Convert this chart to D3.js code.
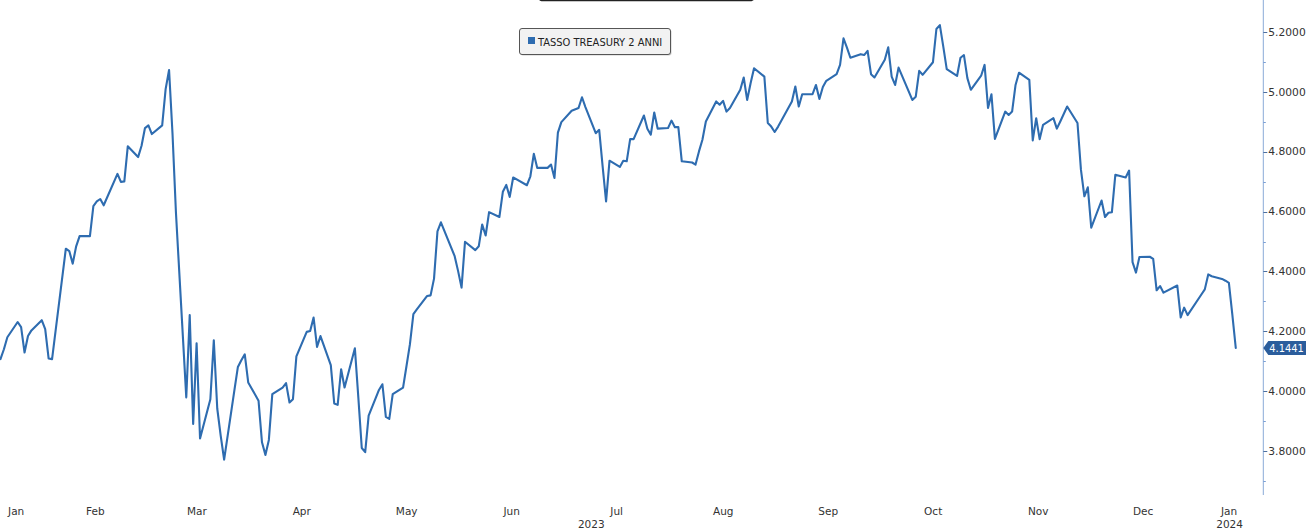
<!DOCTYPE html>
<html><head><meta charset="utf-8">
<script src="https://cdn.jsdelivr.net/npm/d3@7"></script>
<style>html,body{margin:0;padding:0;background:#fff;overflow:hidden}</style>
</head><body><svg id="c" width="1307" height="531"></svg>
<script>
// ---------- data ----------
const seriesName = "TASSO TREASURY 2 ANNI";
const firstDay = "2023-01-18";
const lastDay = "2024-01-12";
const domainStart = "2023-01-14";
const domainEnd = "2024-01-20";
const holidays = ["2023-02-20","2023-05-29","2023-06-19","2023-07-04","2023-09-04",
                  "2023-10-09","2023-11-23","2023-12-25","2024-01-01"];
// daily values (one per trading day), by month
const jan23 = [4.107,4.14,4.18,4.231,4.214,4.129,4.184,4.203,4.237,4.207];
const feb23 = [4.109,4.107,4.20,4.476,4.468,4.426,4.484,4.518,4.518,4.618,4.634,4.642,4.621,4.726,4.699,4.701,4.818,4.782,4.820];
const mar23 = [4.879,4.888,4.859,4.888,5.009,5.073,4.86,4.596,3.979,4.254,3.890,4.160,3.842,3.973,4.170,3.942,3.851,3.771,4.004,4.081,4.103,4.123,4.029];
const apr23 = [3.968,3.829,3.787,3.837,3.99,4.012,4.027,3.962,3.973,4.116,4.198,4.201,4.246,4.148,4.184,4.087,3.959,3.954,4.073,4.012];
const may23 = [4.143,3.979,3.810,3.796,3.918,4.004,4.023,3.914,3.907,3.990,4.012,4.084,4.157,4.257,4.273,4.318,4.320,4.376,4.534,4.564,4.451,4.401];
const jun23 = [4.346,4.499,4.471,4.484,4.557,4.520,4.598,4.582,4.666,4.689,4.649,4.714,4.688,4.718,4.793,4.746,4.746,4.757,4.712,4.864,4.899];
const jul23 = [4.937,4.946,4.982,4.949,4.862,4.873,4.751,4.634,4.770,4.749,4.770,4.768,4.842,4.842,4.921,4.877,4.857,4.931,4.877,4.879];
const aug23 = [4.904,4.882,4.882,4.768,4.764,4.757,4.801,4.840,4.901,4.968,4.957,4.970,4.934,4.946,5.007,5.048,4.973,5.029,5.079,5.051,4.896,4.884,4.866];
const sep23 = [4.884,4.968,5.018,4.951,4.992,4.992,5.023,4.976,5.016,5.037,5.059,5.090,5.179,5.148,5.114,5.126,5.123,5.137,5.059,5.048];
const oct23 = [5.107,5.149,5.051,5.023,5.081,4.973,4.984,5.070,5.057,5.099,5.210,5.223,5.151,5.076,5.053,5.114,5.123,5.046,5.007,5.054,5.090];
const nov23 = [4.946,4.992,4.843,4.934,4.923,4.934,5.023,5.064,5.040,4.838,4.912,4.842,4.890,4.912,4.877,4.901,4.951,4.896,4.740,4.651,4.681];
const dec23 = [4.546,4.637,4.582,4.596,4.598,4.723,4.714,4.737,4.431,4.396,4.448,4.449,4.442,4.337,4.351,4.329,4.353,4.246,4.279,4.254];
const jan24 = [4.323,4.340,4.390,4.384,4.375,4.369,4.362,4.256,4.1441];
const yTicks = [3.8,4.0,4.2,4.4,4.6,4.8,5.0,5.2];
const yMinorTicks = [3.7,3.9,4.1,4.3,4.5,4.7,4.9,5.1];
const lastValueLabel = "4.1441";

// ---------- build ----------
const parse = d3.utcParse("%Y-%m-%d");
const fmtDay = d3.utcFormat("%Y-%m-%d");
const hol = new Set(holidays);
const dates = [];
for (let d = parse(firstDay); d <= parse(lastDay); d = d3.utcDay.offset(d, 1)) {
  const w = d.getUTCDay();
  if (w === 0 || w === 6 || hol.has(fmtDay(d))) continue;
  dates.push(d);
}
const values = [].concat(jan23,feb23,mar23,apr23,may23,jun23,jul23,aug23,sep23,oct23,nov23,dec23,jan24);
const data = dates.map((d, i) => ({date: d, value: values[i]})).filter(d => d.value != null);

const svg = d3.select("#c");
svg.append("rect").attr("width",1307).attr("height",531).attr("fill","#fff");

const d0 = parse(domainStart), d1 = parse(domainEnd);
const x = d3.scaleUtc().domain([d0, d1]).range([-13.3, 1263.3]);
const y = d3.scaleLinear().domain([3.8, 5.2]).range([451, 32]);

const lineColor = "#2e6cb0";
const axisX = x(d1);

// title box remnant at top
svg.append("rect").attr("x",539.5).attr("y",-10).attr("width",214).attr("height",10.5)
  .attr("rx",2).attr("fill","#fff").attr("stroke","#222").attr("stroke-width",1.3);

// line
svg.append("path").datum(data)
  .attr("fill","none").attr("stroke",lineColor).attr("stroke-width",2.1)
  .attr("stroke-linejoin","round").attr("stroke-linecap","round")
  .attr("d", d3.line().x(d => x(d.date)).y(d => y(d.value)));

// right axis
const ax = svg.append("g");
ax.append("line").attr("x1",axisX).attr("x2",axisX).attr("y1",0).attr("y2",495)
  .attr("stroke","#8aaad8").attr("stroke-width",1);
ax.selectAll("line.maj").data(yTicks).join("line").attr("class","maj")
  .attr("x1",axisX).attr("x2",axisX+4).attr("y1",d=>Math.round(y(d))+0.5).attr("y2",d=>Math.round(y(d))+0.5)
  .attr("stroke","#4d6f9f").attr("stroke-width",1);
ax.selectAll("line.min").data(yMinorTicks).join("line").attr("class","min")
  .attr("x1",axisX).attr("x2",axisX+2.5).attr("y1",d=>Math.round(y(d))+0.5).attr("y2",d=>Math.round(y(d))+0.5)
  .attr("stroke","#7b9fd4").attr("stroke-width",1);
ax.selectAll("text").data(yTicks).join("text")
  .attr("x",axisX+5).attr("y",d=>y(d)).attr("dy","0.35em")
  .attr("font-family","DejaVu Sans").attr("font-size",10.7).attr("fill","#333")
  .text(d3.format(".4f"));

// last value tag
const lv = data[data.length-1];
const ty = y(lv.value);
svg.append("path")
  .attr("d",`M${axisX},${ty} L${axisX+5},${ty-7} L1306,${ty-7} L1306,${ty+7} L${axisX+5},${ty+7} Z`)
  .attr("fill","#2b5d9c");
svg.append("text").attr("x",axisX+6).attr("y",ty).attr("dy","0.36em")
  .attr("font-family","DejaVu Sans Condensed").attr("font-size",11).attr("fill","#fff")
  .text(lastValueLabel);

// x labels: months centred in their visible span, years below
const months = d3.utcMonth.range(d3.utcMonth.floor(d0), d1);
svg.selectAll("text.m").data(months).join("text").attr("class","m")
  .attr("x", m => {
    const a = m < d0 ? d0 : m, n = d3.utcMonth.offset(m,1), b = n > d1 ? d1 : n;
    return (x(a)+x(b))/2 - 1.5;
  })
  .attr("y",515).attr("text-anchor","middle")
  .attr("font-family","DejaVu Sans").attr("font-size",10.5).attr("fill","#333")
  .text(d3.utcFormat("%b"));
const years = d3.utcYear.range(d3.utcYear.floor(d0), d1);
svg.selectAll("text.yr").data(years).join("text").attr("class","yr")
  .attr("x", m => {
    const a = m < d0 ? d0 : m, n = d3.utcYear.offset(m,1), b = n > d1 ? d1 : n;
    return (x(a)+x(b))/2 - 1;
  })
  .attr("y",528).attr("text-anchor","middle")
  .attr("font-family","DejaVu Sans").attr("font-size",10.5).attr("fill","#333")
  .text(d3.utcFormat("%Y"));

// legend
const lg = svg.append("g");
lg.append("rect").attr("x",520.5).attr("y",29.5).attr("width",151).attr("height",26).attr("rx",2.5)
  .attr("fill","#999").attr("opacity",0.5);
lg.append("rect").attr("x",519.5).attr("y",28.5).attr("width",151).attr("height",26).attr("rx",2.5)
  .attr("fill","#f2f2f2").attr("stroke","#555").attr("stroke-width",1);
lg.append("rect").attr("x",528).attr("y",37).attr("width",7).attr("height",7).attr("fill",lineColor);
lg.append("text").attr("x",538).attr("y",45.8)
  .attr("font-family","DejaVu Sans Condensed").attr("font-size",11).attr("fill","#222")
  .text(seriesName);
</script></body></html>
